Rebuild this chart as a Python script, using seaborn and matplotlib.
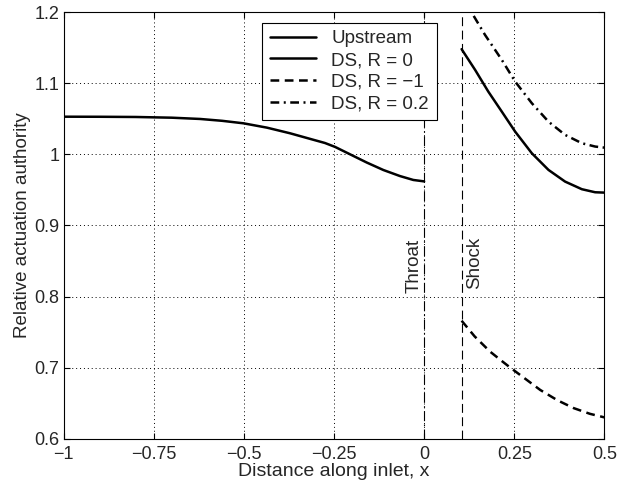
import numpy as np
import pandas as pd
import matplotlib
matplotlib.use("Agg")
import matplotlib.pyplot as plt
import seaborn as sns

# ---- data ----
x_up = [-1.0, -0.9, -0.8, -0.7, -0.621, -0.56, -0.501, -0.436, -0.372, -0.307, -0.275, -0.247,
        -0.205, -0.159, -0.113, -0.067, -0.030, 0.0]
y_up = [1.0530, 1.0529, 1.0526, 1.0516, 1.0498, 1.0472, 1.0437, 1.0376, 1.0297, 1.0205, 1.0160, 1.0105,
        1.0000, 0.9885, 0.9780, 0.9695, 0.9640, 0.9620]

x_r0 = [0.104, 0.1415, 0.178, 0.2155, 0.2525, 0.2987, 0.345, 0.391, 0.4374, 0.4743, 0.5]
y_r0 = [1.148, 1.1188, 1.0883, 1.0601, 1.0320, 1.0016, 0.9781, 0.9617, 0.9510, 0.9467, 0.9462]

x_r02 = [0.104, 0.1304, 0.169, 0.2155, 0.2525, 0.2987, 0.345, 0.391, 0.4374, 0.4743, 0.5]
y_r02 = [1.223, 1.2008, 1.1680, 1.1329, 1.1024, 1.0720, 1.0460, 1.0274, 1.0157, 1.0110, 1.0095]

x_rm1 = [0.104, 0.14, 0.183, 0.215, 0.239, 0.28, 0.322, 0.37, 0.415, 0.46, 0.5]
y_rm1 = [0.766, 0.744, 0.7225, 0.7095, 0.700, 0.6845, 0.6686, 0.654, 0.643, 0.635, 0.630]

throat_x = 0.0
shock_x = 0.104

xticks = [-1, -0.75, -0.5, -0.25, 0, 0.25, 0.5]
xtick_labels = ["\u22121", "\u22120.75", "\u22120.5", "\u22120.25", "0", "0.25", "0.5"]
yticks = [0.6, 0.7, 0.8, 0.9, 1.0, 1.1, 1.2]
ytick_labels = ["0.6", "0.7", "0.8", "0.9", "1", "1.1", "1.2"]

sns.set_style("white")
plt.rcParams["font.family"] = ["Liberation Sans", "DejaVu Sans"]
plt.rcParams["font.size"] = 13

fig = plt.figure(figsize=(6.18, 4.88), dpi=100)
ax = fig.add_axes([0.1028, 0.101, 0.8752, 0.874])

df_up = pd.DataFrame({"x": x_up, "y": y_up})
df_r0 = pd.DataFrame({"x": x_r0, "y": y_r0})
df_rm1 = pd.DataFrame({"x": x_rm1, "y": y_rm1})
df_r02 = pd.DataFrame({"x": x_r02, "y": y_r02})

lw = 1.8
sns.lineplot(data=df_up, x="x", y="y", ax=ax, color="black", lw=lw, label="Upstream", sort=False)
sns.lineplot(data=df_r0, x="x", y="y", ax=ax, color="black", lw=lw, label="DS, R = 0", sort=False)
sns.lineplot(data=df_rm1, x="x", y="y", ax=ax, color="black", lw=lw, label="DS, R = \u22121", sort=False)
sns.lineplot(data=df_r02, x="x", y="y", ax=ax, color="black", lw=lw, label="DS, R = 0.2", sort=False)
lines = ax.get_lines()
lines[2].set_linestyle((0, (3.5, 2.2)))
lines[3].set_linestyle((0, (3.5, 1.8, 0.8, 1.8)))
for ln in lines[:4]:
    ln.set_solid_joinstyle("round")
    ln.set_dash_joinstyle("round")

ax.axvline(throat_x, color="black", lw=0.8, ls=(0, (9, 3, 1.5, 3)))
ax.axvline(shock_x, color="black", lw=0.8, ls=(0, (8, 4)))
ax.text(throat_x - 0.003, 0.805, "Throat", rotation=90, ha="right", va="bottom", fontsize=13.5)
ax.text(shock_x + 0.012, 0.81, "Shock", rotation=90, ha="left", va="bottom", fontsize=13.5)

ax.set_xlim(-1, 0.5)
ax.set_ylim(0.6, 1.2)
ax.set_xticks(xticks)
ax.set_xticklabels(xtick_labels)
ax.set_yticks(yticks)
ax.set_yticklabels(ytick_labels)
ax.grid(True, color="black", lw=0.7, ls=(0, (1, 3)))
ax.tick_params(direction="in", length=4, width=0.8, color="black", pad=3,
               top=True, right=True, bottom=True, left=True, labelsize=13)
ax.tick_params(axis="x", pad=5)
for s in ax.spines.values():
    s.set_visible(True)
    s.set_color("black")
    s.set_linewidth(0.8)

ax.set_xlabel("Distance along inlet, x", fontsize=14, labelpad=0)
ax.set_ylabel("Relative actuation authority", fontsize=13.5, labelpad=2)

leg = ax.legend(loc="upper left", bbox_to_anchor=(0.367, 0.9756), borderaxespad=0,
                frameon=True, fancybox=False,
                edgecolor="black", framealpha=1, handlelength=2.5, borderpad=0.4,
                labelspacing=0.25, handletextpad=0.8, fontsize=13.5)
leg.get_frame().set_linewidth(0.8)

fig.savefig("out.png", dpi=100)
